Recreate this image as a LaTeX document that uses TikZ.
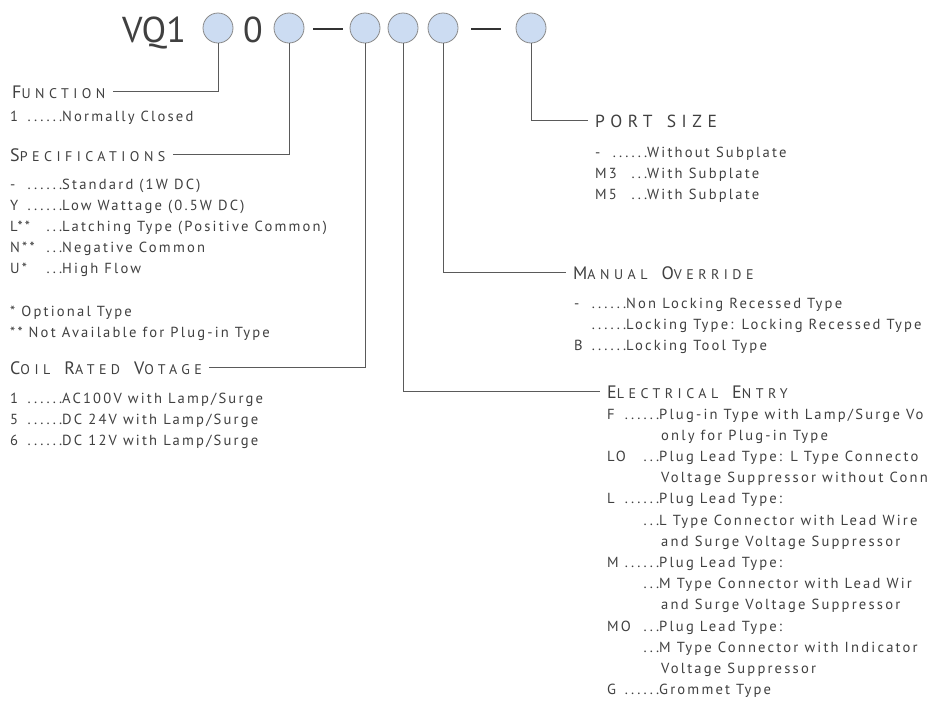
\documentclass[tikz,border=0pt]{standalone}
\usepackage{fontspec}
\newfontfamily\bodyf{PT Sans}[LetterSpace=15]
\newfontfamily\headf{PT Sans}[LetterSpace=32]
\newfontfamily\titlef{PT Sans}
\definecolor{txt}{HTML}{404040}
\definecolor{dotfill}{HTML}{CCDCF2}
\definecolor{dotline}{HTML}{8A8A8A}
\definecolor{connc}{HTML}{5A5A5A}
\definecolor{barc}{HTML}{333333}
\newcommand\kv[2]{\makebox[52pt][l]{#1}#2}
\newcommand\hsc[2]{{\fontsize{18}{18}\selectfont #1}{\fontsize{14}{14}\selectfont #2}}
\newcommand\hgap{\hspace{14pt}}
\tikzset{
  dotc/.style={circle, draw=dotline, fill=dotfill, line width=0.8pt, minimum size=30pt, inner sep=0pt},
  barnode/.style={rectangle, fill=barc, minimum width=30pt, minimum height=2.4pt, inner sep=0pt},
  head/.style={anchor=base west, inner xsep=7pt, inner ysep=0pt, text=txt, font=\headf},
  listn/.style={anchor=base west, inner sep=0pt, text=txt, font=\bodyf\fontsize{14.6}{21.2}\selectfont},
  connl/.style={draw=connc, line width=0.8pt},
  titlen/.style={anchor=base west, inner sep=0pt, text=txt, font=\titlef\fontsize{36}{36}\selectfont}
}
\begin{document}
\begin{tikzpicture}[x=1pt,y=-1pt]
\useasboundingbox (0,0) rectangle (930,705);
\clip (0,0) rectangle (930,705);
\fill[white] (0,0) rectangle (930,705);
% title
\node[titlen] (vq) at (122,42) {VQ1};
\node[titlen] (zero) at (243,42) {0};
\node[dotc] (c1) at (218,28) {};
\node[dotc] (c2) at (289,28) {};
\node[barnode] (d1) at (328,29) {};
\node[dotc] (c3) at (365,28) {};
\node[dotc] (c4) at (403,28) {};
\node[dotc] (c5) at (443,28) {};
\node[barnode] (d2) at (486,29) {};
\node[dotc] (c6) at (531,28) {};
% headings
\node[head] (fn) at (5,98) {\hsc{F}{UNCTION}};
\node[head] (sp) at (3,161) {\hsc{S}{PECIFICATIONS}};
\node[head] (co) at (3,374) {\hsc{C}{OIL}\hgap\hsc{R}{ATED}\hgap\hsc{V}{OTAGE}};
\node[head] (ps) at (588,127) {\fontsize{17.5}{17.5}\selectfont PORT\hspace{4pt} SIZE};
\node[head] (mo) at (566,279) {\hsc{M}{ANUAL}\hgap\hsc{O}{VERRIDE}};
\node[head] (el) at (600,398) {\hsc{E}{LECTRICAL}\hgap\hsc{E}{NTRY}};
% connectors
\draw[connl] (c1.south) |- (fn.east);
\draw[connl] (c2.south) |- (sp.east);
\draw[connl] (c3.south) |- (co.east);
\draw[connl] (c4.south) |- (el.west);
\draw[connl] (c5.south) |- (mo.west);
\draw[connl] (c6.south) |- (ps.west);
% lists
\node[listn] (fnl) at (10,121) {\begin{tabular}[t]{@{}l@{}}
\kv{1}{\llap{......}Normally Closed}
\end{tabular}};
\node[listn] (spl) at (10,189) {\begin{tabular}[t]{@{}l@{}}
\kv{-}{\llap{......}Standard (1W DC)}\\
\kv{Y}{\llap{......}Low Wattage (0.5W DC)}\\
\kv{L**}{\llap{...}Latching Type (Positive Common)}\\
\kv{N**}{\llap{...}Negative Common}\\
\kv{U*}{\llap{...}High Flow}\\
\relax\\
\relax * Optional Type\\
\relax ** Not Available for Plug-in Type
\end{tabular}};
\node[listn] (col) at (10,403) {\begin{tabular}[t]{@{}l@{}}
\kv{1}{\llap{......}AC100V with Lamp/Surge}\\
\kv{5}{\llap{......}DC 24V with Lamp/Surge}\\
\kv{6}{\llap{......}DC 12V with Lamp/Surge}
\end{tabular}};
\node[listn] (psl) at (595,157) {\begin{tabular}[t]{@{}l@{}}
\kv{-}{\llap{......}Without Subplate}\\
\kv{M3}{\llap{...}With Subplate}\\
\kv{M5}{\llap{...}With Subplate}
\end{tabular}};
\node[listn] (mol) at (574,308) {\begin{tabular}[t]{@{}l@{}}
\kv{-}{\llap{......}Non Locking Recessed Type}\\
\kv{}{\llap{......}Locking Type: Locking Recessed Type}\\
\kv{B}{\llap{......}Locking Tool Type}
\end{tabular}};
\node[listn] (ell) at (607,419) {\begin{tabular}[t]{@{}l@{}}
\kv{F}{\llap{......}Plug-in Type with Lamp/Surge Vo}\\
\kv{}{\hspace{2pt}only for Plug-in Type}\\
\kv{LO}{\llap{...}Plug Lead Type: L Type Connecto}\\
\kv{}{\hspace{2pt}Voltage Suppressor without Conn}\\
\kv{L}{\llap{......}Plug Lead Type:}\\
\kv{}{\llap{...}L Type Connector with Lead Wire}\\
\kv{}{\hspace{2pt}and Surge Voltage Suppressor}\\
\kv{M}{\llap{......}Plug Lead Type:}\\
\kv{}{\llap{...}M Type Connector with Lead Wir}\\
\kv{}{\hspace{2pt}and Surge Voltage Suppressor}\\
\kv{MO}{\llap{...}Plug Lead Type:}\\
\kv{}{\llap{...}M Type Connector with Indicator}\\
\kv{}{\hspace{2pt}Voltage Suppressor}\\
\kv{G}{\llap{......}Grommet Type}
\end{tabular}};
\end{tikzpicture}
\end{document}
